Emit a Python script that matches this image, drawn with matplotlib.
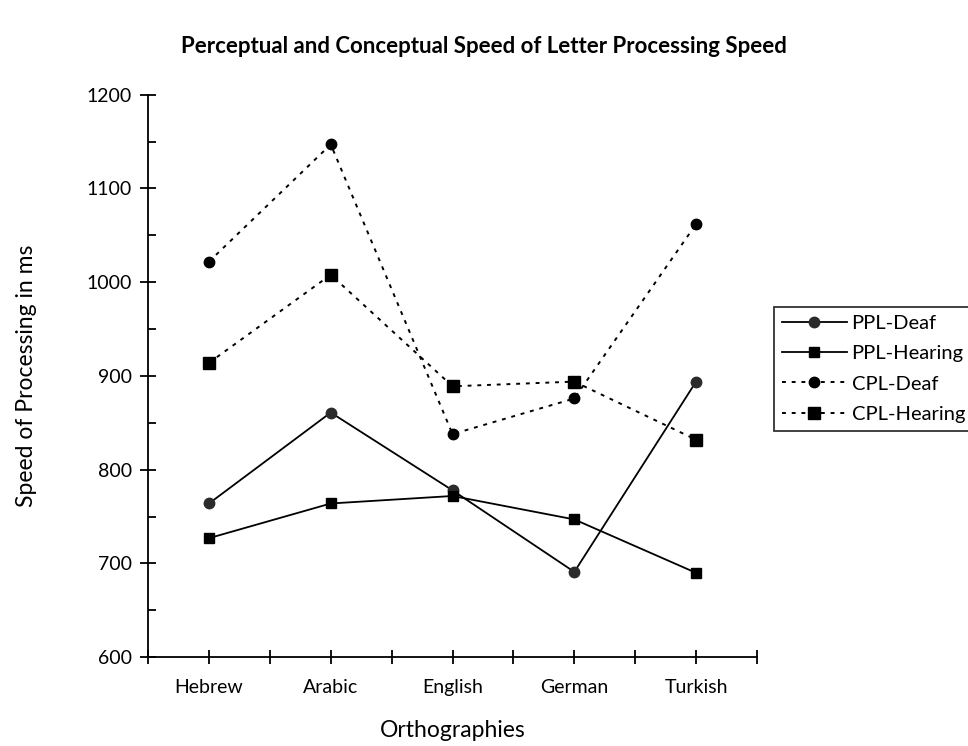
import numpy as np
import matplotlib
matplotlib.use("Agg")
from matplotlib import pyplot as plt
from matplotlib.ticker import MultipleLocator, FuncFormatter

plt.rcParams['font.family'] = ['Lato', 'DejaVu Sans']

# Data
orthographies = ["Hebrew", "Arabic", "English", "German", "Turkish"]
ppl_deaf = [764, 861, 778, 691, 894]
ppl_hearing = [727, 764, 772, 747, 690]
cpl_deaf = [1022, 1147, 838, 876, 1062]
cpl_hearing = [914, 1008, 889, 894, 832]

x = np.arange(1, len(orthographies) + 1)

fig = plt.figure(figsize=(9.68, 7.46), dpi=100)
ax = fig.add_axes([0.153, 0.119, 0.629, 0.754])

dot = (0, (2, 3))
ax.plot(x, ppl_deaf, color='black', lw=1.3, marker='o', ms=7.5,
        mfc='#2b2b2b', mec='#2b2b2b', label="PPL-Deaf")
ax.plot(x, ppl_hearing, color='black', lw=1.3, marker='s', ms=7.5,
        label="PPL-Hearing")
ax.plot(x, cpl_deaf, color='black', lw=1.4, ls=dot, marker='o', ms=7.5,
        label="CPL-Deaf")
ax.plot(x, cpl_hearing, color='black', lw=1.4, ls=dot, marker='s', ms=9,
        label="CPL-Hearing")

ax.set_xlim(0.5, 5.5)
ax.set_ylim(600, 1200)

ax.xaxis.set_major_locator(MultipleLocator(0.5))
ax.xaxis.set_major_formatter(FuncFormatter(
    lambda v, p: orthographies[int(round(v)) - 1]
    if abs(v - round(v)) < 1e-6 and 1 <= round(v) <= 5 else ""))
ax.yaxis.set_major_locator(MultipleLocator(100))
ax.yaxis.set_minor_locator(MultipleLocator(50))

ax.tick_params(axis='x', direction='inout', length=10, width=1.3,
               labelsize=14, pad=11)
ax.tick_params(axis='y', which='major', direction='inout', length=11,
               width=1.3, labelsize=14, pad=6)
ax.tick_params(axis='y', which='minor', direction='in', length=5.5,
               width=1.3)

for side in ['top', 'right']:
    ax.spines[side].set_visible(False)
for side in ['left', 'bottom']:
    ax.spines[side].set_linewidth(1.3)

ax.set_xlabel("Orthographies", fontsize=16.5, labelpad=17)
ax.set_ylabel("Speed of Processing in ms", fontsize=16.5, labelpad=36)

fig.text(0.5, 0.937, "Perceptual and Conceptual Speed of Letter Processing Speed",
         ha='center', va='center', fontsize=16, fontweight='bold')

leg = ax.legend(loc='upper left', bbox_to_anchor=(0.7996, 0.5885),
                bbox_transform=fig.transFigure, borderaxespad=0,
                fontsize=14.5, frameon=True, fancybox=False,
                edgecolor='black', handlelength=3.2, labelspacing=0.65,
                borderpad=0.4, handletextpad=0.25)
leg.get_frame().set_linewidth(1.3)

fig.savefig("out.png", dpi=100)
